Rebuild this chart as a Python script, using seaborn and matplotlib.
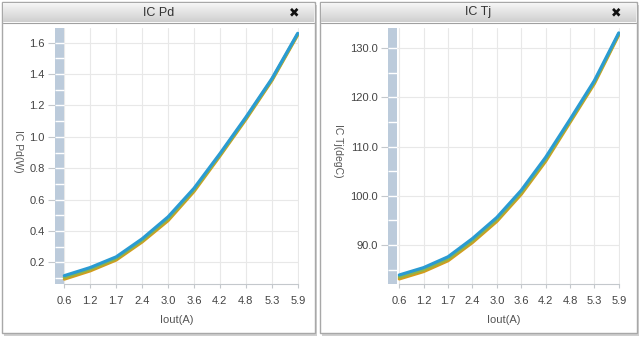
import numpy as np
import pandas as pd
import matplotlib
matplotlib.use("Agg")
import matplotlib.pyplot as plt
import seaborn as sns
from matplotlib.patches import Rectangle
from matplotlib.colors import LinearSegmentedColormap
from matplotlib.ticker import FormatStrFormatter

# ---------------- data ----------------
iout = ["0.6", "1.2", "1.7", "2.4", "3.0", "3.6", "4.2", "4.8", "5.3", "5.9"]
series_names = ["S3", "S2", "S1"]          # drawn bottom -> top
series_colors = ["#d39c1c", "#8fb44a", "#2a9bd2"]

pd_s1 = [0.115, 0.167, 0.235, 0.350, 0.490, 0.672, 0.893, 1.125, 1.370, 1.660]
pd_s2 = [0.104, 0.157, 0.225, 0.340, 0.478, 0.662, 0.885, 1.118, 1.364, 1.655]
pd_s3 = [0.093, 0.146, 0.215, 0.330, 0.466, 0.652, 0.878, 1.111, 1.358, 1.650]

tj_s1 = [83.9, 85.4, 87.6, 91.3, 95.6, 101.1, 107.8, 115.5, 123.4, 133.1]
tj_s2 = [83.5, 85.0, 87.2, 90.9, 95.2, 100.7, 107.4, 115.2, 123.1, 132.9]
tj_s3 = [83.1, 84.6, 86.8, 90.5, 94.8, 100.3, 107.0, 114.9, 122.8, 132.7]

pd_ticks = [0.2, 0.4, 0.6, 0.8, 1.0, 1.2, 1.4, 1.6]
tj_ticks = [90.0, 100.0, 110.0, 120.0, 130.0]


def make_df(s1, s2, s3):
    rows = []
    for name, vals in zip(["S1", "S2", "S3"], [s1, s2, s3]):
        for x, v in zip(iout, vals):
            rows.append({"Iout": x, "value": v, "series": name})
    return pd.DataFrame(rows)


df_pd = make_df(pd_s1, pd_s2, pd_s3)
df_tj = make_df(tj_s1, tj_s2, tj_s3)

# ---------------- figure ----------------
sns.set_style("white")
plt.rcParams["font.family"] = ["Liberation Sans", "DejaVu Sans"]
W, H = 642, 339
fig = plt.figure(figsize=(W / 100, H / 100), dpi=100)
fig.patch.set_facecolor("white")


def fx(x):
    return x / W


def fy(y):
    return 1 - y / H


def panel(x0, x1, y0, y1, title):
    fig.patches.append(Rectangle((fx(x0 + 2), fy(y1 + 3)), (x1 - x0) / W, (y1 - y0) / H,
                                 transform=fig.transFigure, facecolor="#cfcfcf",
                                 edgecolor="none", zorder=-3))
    fig.patches.append(Rectangle((fx(x0), fy(y1)), (x1 - x0) / W, (y1 - y0) / H,
                                 transform=fig.transFigure, facecolor="white",
                                 edgecolor="#a8a8a8", lw=1, zorder=-2))
    tb = fig.add_axes([fx(x0 + 1), fy(y0 + 20), (x1 - x0 - 2) / W, 19 / H])
    grad = np.linspace(0, 1, 60).reshape(-1, 1)
    cmap = LinearSegmentedColormap.from_list("g", ["#f6f6f6", "#cfcfcf"])
    tb.imshow(grad, aspect="auto", cmap=cmap, extent=[0, 1, 0, 1])
    tb.set_xlim(0, 1)
    tb.set_ylim(0, 1)
    tb.set_axis_off()
    tb.text(0.5, 0.5, title, ha="center", va="center", fontsize=9, color="#333333")
    tb.text(1 - 20 / (x1 - x0), 0.5, "\u2716", ha="center", va="center",
            fontsize=9, color="#111111", family="DejaVu Sans")
    fig.add_artist(plt.Line2D([fx(x0 + 1), fx(x1 - 1)], [fy(y0 + 20.5), fy(y0 + 20.5)],
                              transform=fig.transFigure, color="#a0a0a0", lw=0.8))


panel(2, 315, 2, 333, "IC Pd")
panel(320, 637, 2, 333, "IC Tj")


def draw(df, box, xleft, band_right, ylim, ticks, minor_step, ylabel, label_x):
    ax = fig.add_axes(box)
    ax.set_facecolor("none")
    sns.lineplot(data=df, x="Iout", y="value", hue="series", hue_order=series_names,
                 palette=series_colors, linewidth=2.3, legend=False, ax=ax, sort=False,
                 zorder=5)
    ax.set_xlim(xleft, 9.03)
    ax.set_ylim(*ylim)
    ax.set_yticks(ticks)
    ax.yaxis.set_major_formatter(FormatStrFormatter("%.1f"))
    ax.grid(True, color="#e8e8e8", lw=0.8, zorder=0)
    ax.set_axisbelow(True)
    # left band
    ax.axvspan(xleft, band_right, color="#bccbdb", zorder=2, lw=0)
    v = ticks[0] - minor_step * 2
    while v < ylim[1]:
        if v > ylim[0]:
            ax.hlines(v, xleft, band_right, color="white", lw=1, zorder=3)
        v += minor_step
    for s in ["top", "right", "left"]:
        ax.spines[s].set_visible(False)
    ax.spines["bottom"].set_bounds(0, 9)
    ax.spines["bottom"].set_color("#c4c8cc")
    ax.tick_params(axis="y", length=5, width=0.8, color="#c4c8cc", pad=2.5,
                   labelsize=8, labelcolor="#444444", left=True)
    ax.tick_params(axis="x", length=3, width=0.8, color="#c4c8cc", pad=6,
                   labelsize=8, labelcolor="#444444", bottom=True)
    ax.set_xlabel("Iout(A)", fontsize=8, color="#555555", labelpad=6)
    ax.set_ylabel(ylabel, fontsize=7.5, color="#555555", rotation=270, va="center")
    ax.yaxis.set_label_coords(label_x, 0.52)
    return ax


draw(df_pd, [55 / W, (H - 284) / H, (298.5 - 55) / W, (284 - 28) / H],
     -0.36, 0.0, (0.062, 1.694), pd_ticks, 0.1, "IC Pd(W)", -0.152)
draw(df_tj, [388.3 / W, (H - 284) / H, (619.5 - 388.3) / W, (284 - 28) / H],
     -0.45, -0.1, (82.07, 134.1), tj_ticks, 5.0, "IC Tj(degC)", -0.218)

fig.savefig("out.png", dpi=100, facecolor="white")
